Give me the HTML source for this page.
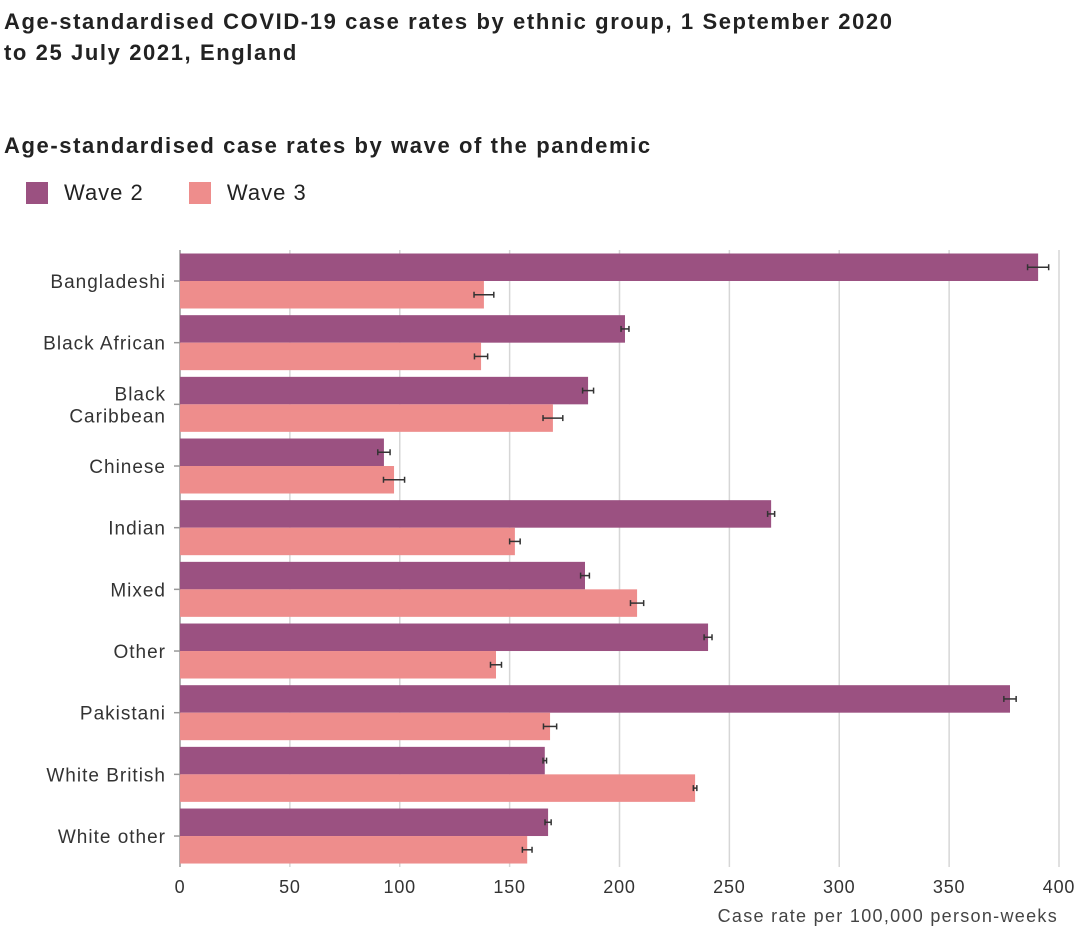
<!DOCTYPE html>
<html><head><meta charset="utf-8"><style>
body{margin:0;background:#fff;width:1080px;height:930px;overflow:hidden;font-family:"Liberation Sans",sans-serif;color:#222}
.t{position:absolute;left:4px;font-weight:bold;font-size:22px;letter-spacing:1.6px;line-height:31px}
</style></head><body>
<div class="t" style="top:6px">Age-standardised COVID-19 case rates by ethnic group, 1 September 2020<br>to 25 July 2021, England</div>
<div class="t" style="top:130px">Age-standardised case rates by wave of the pandemic</div>
<div style="position:absolute;top:180px;left:26px;font-size:22px;letter-spacing:1px">
<span style="display:inline-flex;align-items:center"><span style="width:22px;height:22px;background:#9b5181;display:inline-block;margin-right:16px"></span>Wave 2</span>
<span style="display:inline-flex;align-items:center;margin-left:38px"><span style="width:22px;height:22px;background:#ee8d8c;display:inline-block;margin-right:16px"></span>Wave 3</span>
</div>
<svg id="c" width="1080" height="930" style="position:absolute;left:0;top:0"></svg>
<script>
const categories=["Bangladeshi","Black African","Black Caribbean","Chinese","Indian","Mixed","Other","Pakistani","White British","White other"];
const wave2=[390.5,202.5,185.7,92.8,269,184.3,240.3,377.7,166,167.5];
const wave2Err=[4.8,1.8,2.5,2.8,1.6,2,1.8,2.8,0.8,1.4];
const wave3=[138.3,137,169.7,97.4,152.4,208,143.8,168.4,234.4,158];
const wave3Err=[4.5,3,4.5,4.8,2.4,3,2.5,3,0.8,2.2];
const ticks=[0,50,100,150,200,250,300,350,400];
const svg=document.getElementById('c');const NS='http://www.w3.org/2000/svg';
const x0=180,x1=1059,plotTop=250,plotBot=867,pitch=61.67,bh=27.5;
const X=v=>x0+(v/400)*(x1-x0);
function mk(t,a,p){const e=document.createElementNS(NS,t);for(const k in a)e.setAttribute(k,a[k]);(p||svg).appendChild(e);return e;}
ticks.forEach(v=>{
 const g=mk('line',{x1:X(v),x2:X(v),y1:plotTop,y2:plotBot,stroke:v===0?'#999':'#d6d6d6','stroke-width':1.5});
 
 
 const t=mk('text',{x:X(v),y:893,'text-anchor':'middle','font-size':18,fill:'#333','letter-spacing':0.8});t.textContent=v;
 
 
});
const at=mk('text',{x:1058,y:922,'text-anchor':'end','font-size':18,fill:'#444','letter-spacing':1.3});at.textContent='Case rate per 100,000 person-weeks';


function err(v,e,cy){
 const g=mk('g',{stroke:'#333','stroke-width':1.5});
 
 
 mk('line',{x1:X(v-e),x2:X(v+e),y1:cy,y2:cy},g);
 mk('line',{x1:X(v-e),x2:X(v-e),y1:cy-3,y2:cy+3},g);
 mk('line',{x1:X(v+e),x2:X(v+e),y1:cy-3,y2:cy+3},g);
}
categories.forEach((c,i)=>{
 const cy=281+i*pitch;
 const slug=c.toLowerCase().replace(' ','-');
 const b2=mk('rect',{x:x0,y:cy-bh,width:X(wave2[i])-x0,height:bh,fill:'#9b5181'});
 
 
 const b3=mk('rect',{x:x0,y:cy,width:X(wave3[i])-x0,height:bh,fill:'#ee8d8c'});
 
 
 err(wave2[i],wave2Err[i],cy-bh/2);err(wave3[i],wave3Err[i],cy+bh/2);
 mk('line',{x1:x0-6,x2:x0,y1:cy,y2:cy,stroke:'#999','stroke-width':1.5});
 const t=mk('text',{x:166,y:cy+7,'text-anchor':'end','font-size':19,fill:'#333','letter-spacing':1});
 
 
 if(c==='Black Caribbean'){
  t.setAttribute('y',cy-4);
  const a=mk('tspan',{x:166},t);a.textContent='Black';
  const s=mk('tspan',{x:166,dy:22},t);s.textContent='Caribbean';
 } else t.textContent=c;
});
</script>
</body></html>
